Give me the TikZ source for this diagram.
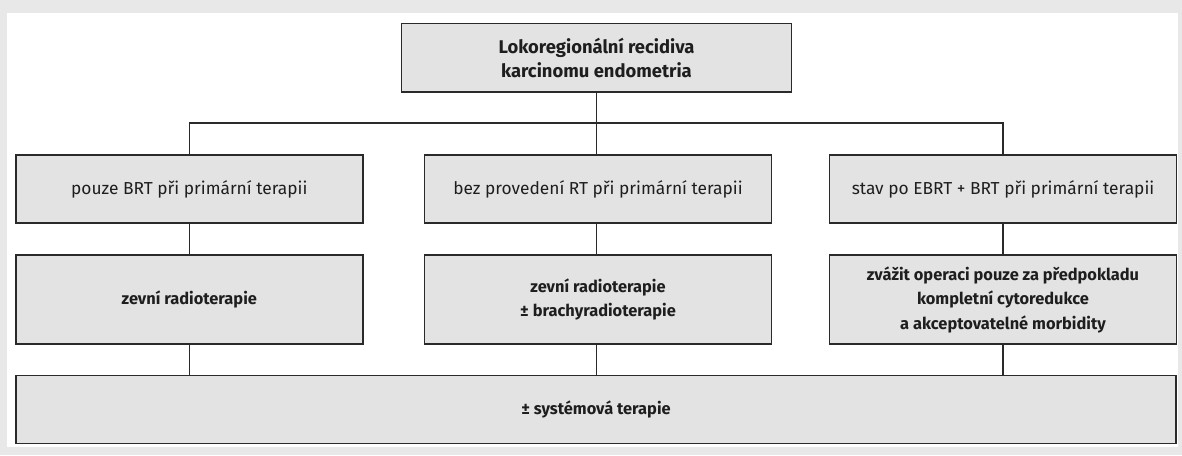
\documentclass[tikz,border=0pt]{standalone}
\usepackage{fontspec}
\setmainfont{Fira Sans}
\begin{document}
\begin{tikzpicture}[x=0.75pt,y=-0.75pt,
  box/.style={draw=boxline,fill=boxfill,line width=1.25pt,rectangle,inner sep=0pt,align=center,text=txt,font=\fontsize{13}{18.4}\selectfont},
  bbox/.style={box,font=\fontsize{12.3}{18.4}\selectfont\bfseries},
  tbox/.style={box,font=\fontsize{13.8}{18.2}\selectfont\bfseries},
  conn/.style={draw=boxline,line width=1.1pt}]
\definecolor{boxfill}{HTML}{E3E3E3}
\definecolor{boxline}{HTML}{2A2A2A}
\definecolor{txt}{HTML}{1E1E1E}
\definecolor{bg}{HTML}{E8E8E8}
\fill[bg] (0,0) rectangle (1182,455);
\fill[white] (7,13) rectangle (1178,447);
\useasboundingbox (0,0) rectangle (1182,455);
\node[tbox,minimum width=292.5pt,minimum height=51.4pt] (top) at (596.5,57.75) {Lokoregionální recidiva\\karcinomu endometria};
\node[box,minimum width=260.25pt,minimum height=51pt] (a1) at (189.3,189) {pouze BRT při primární terapii};
\node[box,minimum width=260.25pt,minimum height=51pt] (a2) at (598,189) {bez provedení RT při primární terapii};
\node[box,minimum width=260.25pt,minimum height=51pt] (a3) at (1003,189) {stav po EBRT + BRT při primární terapii};
\node[bbox,minimum width=260.25pt,minimum height=66.75pt] (b1) at (189.3,299.5) {zevní radioterapie};
\node[bbox,minimum width=260.25pt,minimum height=66.75pt] (b2) at (598,299.5) {zevní radioterapie\\± brachyradioterapie};
\node[bbox,minimum width=260.25pt,minimum height=66.75pt] (b3) at (1003,299.5) {zvážit operaci pouze za předpokladu\\kompletní cytoredukce\\a akceptovatelné morbidity};
\node[bbox,minimum width=870pt,minimum height=51pt] (c) at (596,409.5) {± systémová terapie};
\coordinate (hl) at (596,123);
\draw[conn] (a1.north) |- (hl) -| (a3.north);
\draw[conn] (top.south) -- (top.south |- a2.north);
\draw[conn] (a1.south) -- (b1.north);
\draw[conn] (b1.south) -- (b1.south |- c.north);
\draw[conn] (top.south |- a2.south) -- (top.south |- b2.north);
\draw[conn] (top.south |- b2.south) -- (top.south |- c.north);
\draw[conn] (a3.south) -- (b3.north);
\draw[conn] (b3.south) -- (b3.south |- c.north);
\end{tikzpicture}
\end{document}
